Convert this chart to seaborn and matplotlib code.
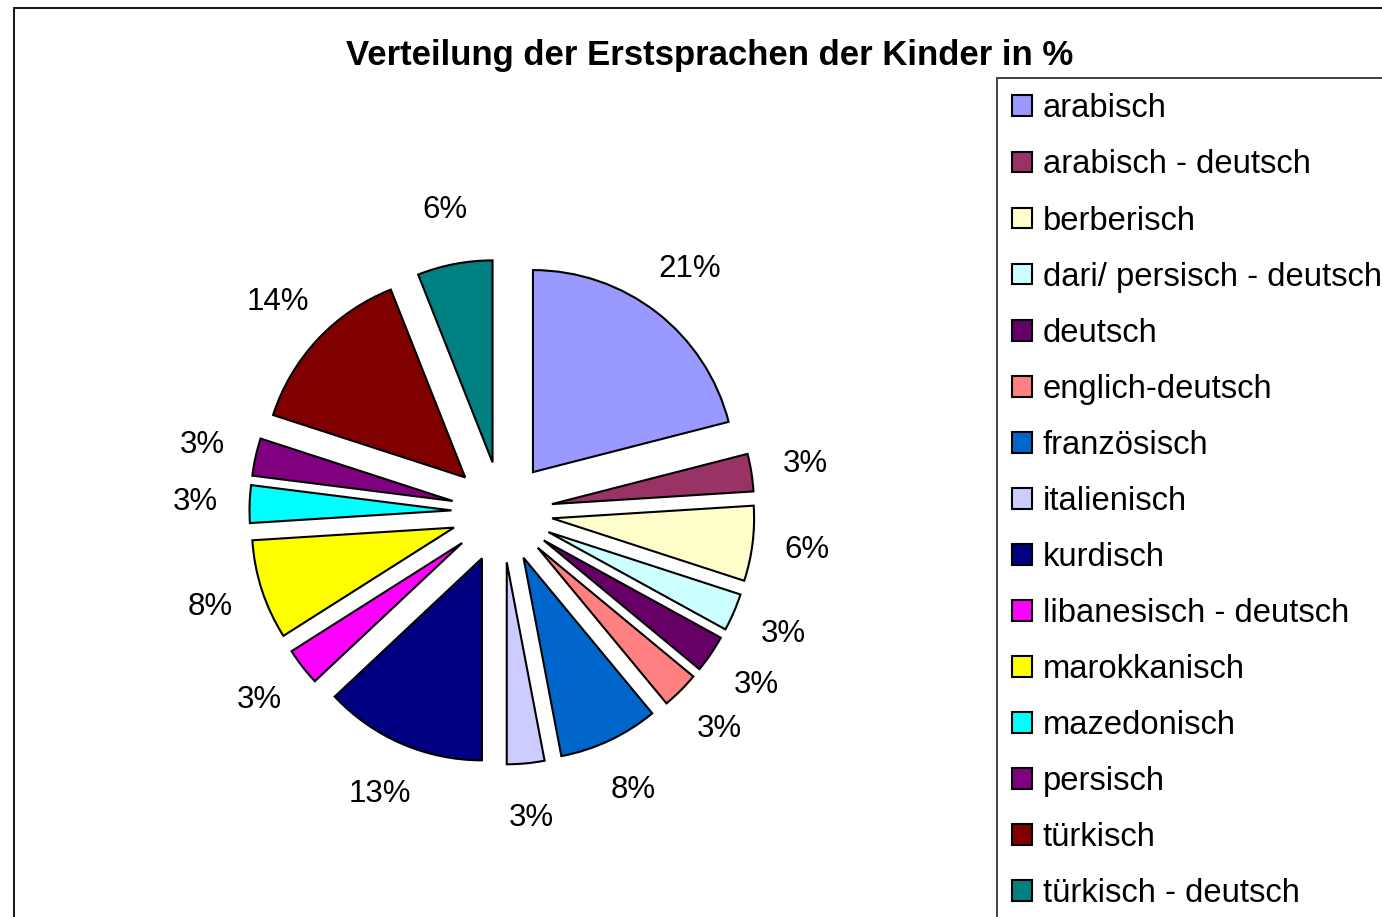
import matplotlib
matplotlib.use("Agg")
import matplotlib.pyplot as plt
import seaborn as sns
from matplotlib.patches import Rectangle

# Erstsprachen und Anteile in %
sprachen = ["arabisch", "arabisch - deutsch", "berberisch", "dari/ persisch - deutsch",
            "deutsch", "englich-deutsch", "französisch", "italienisch", "kurdisch",
            "libanesisch - deutsch", "marokkanisch", "mazedonisch", "persisch",
            "türkisch", "türkisch - deutsch"]
anteile = [21, 3, 6, 3, 3, 3, 8, 3, 13, 3, 8, 3, 3, 14, 6]
farben = ["#9999FF", "#993366", "#FFFFCC", "#CCFFFF", "#660066", "#FF8080", "#0066CC",
          "#CCCCFF", "#000080", "#FF00FF", "#FFFF00", "#00FFFF", "#800080", "#800000",
          "#008080"]
titel = "Verteilung der Erstsprachen der Kinder in %"

sns.set_theme(style="white")
plt.rcParams["font.family"] = ["Liberation Sans", "DejaVu Sans"]
plt.rcParams["text.color"] = "black"

W, H = 1382, 917
fig = plt.figure(figsize=(W / 100, H / 100), dpi=100)
fig.patch.set_facecolor("white")


def px_box(x0, y0, x1, y1):
    return [x0 / W, 1 - y1 / H, (x1 - x0) / W, (y1 - y0) / H]


cx, cy, r = 502, 512, 202
half = 300
ax = fig.add_axes(px_box(cx - half, cy - half, cx + half, cy + half))
wedges, texts, autotexts = ax.pie(
    anteile, colors=farben, startangle=90, counterclock=False,
    explode=[0.25] * len(anteile), autopct="%1.0f%%", pctdistance=1.27,
    wedgeprops=dict(edgecolor="black", linewidth=1.5),
    textprops=dict(fontsize=22.5, color="black"))
ax.set_xlim(-half / r, half / r)
ax.set_ylim(-half / r, half / r)
ax.set_aspect("equal")
ax.axis("off")

fig.text(710 / W, 1 - 56 / H, titel, ha="center", va="center",
         fontsize=25, fontweight="bold", color="black")

leg = fig.legend(wedges, sprachen, loc="upper left",
                 bbox_to_anchor=(997 / W, 1 - 78 / H), fontsize=23.6,
                 frameon=True, fancybox=False, framealpha=1, edgecolor="#333333",
                 handlelength=0.6, handleheight=0.6, handletextpad=0.33,
                 borderpad=0.47, labelspacing=0.765, borderaxespad=0)
leg.get_frame().set_linewidth(1.3)
for t in leg.get_texts():
    t.set_color("black")

# Rahmen des Diagrammbereichs
fig.add_artist(Rectangle((14 / W, -0.1), 2, 1 - 8 / H + 0.1, transform=fig.transFigure,
                         fill=False, edgecolor="black", linewidth=1.3))

fig.savefig("out.png", dpi=100)
